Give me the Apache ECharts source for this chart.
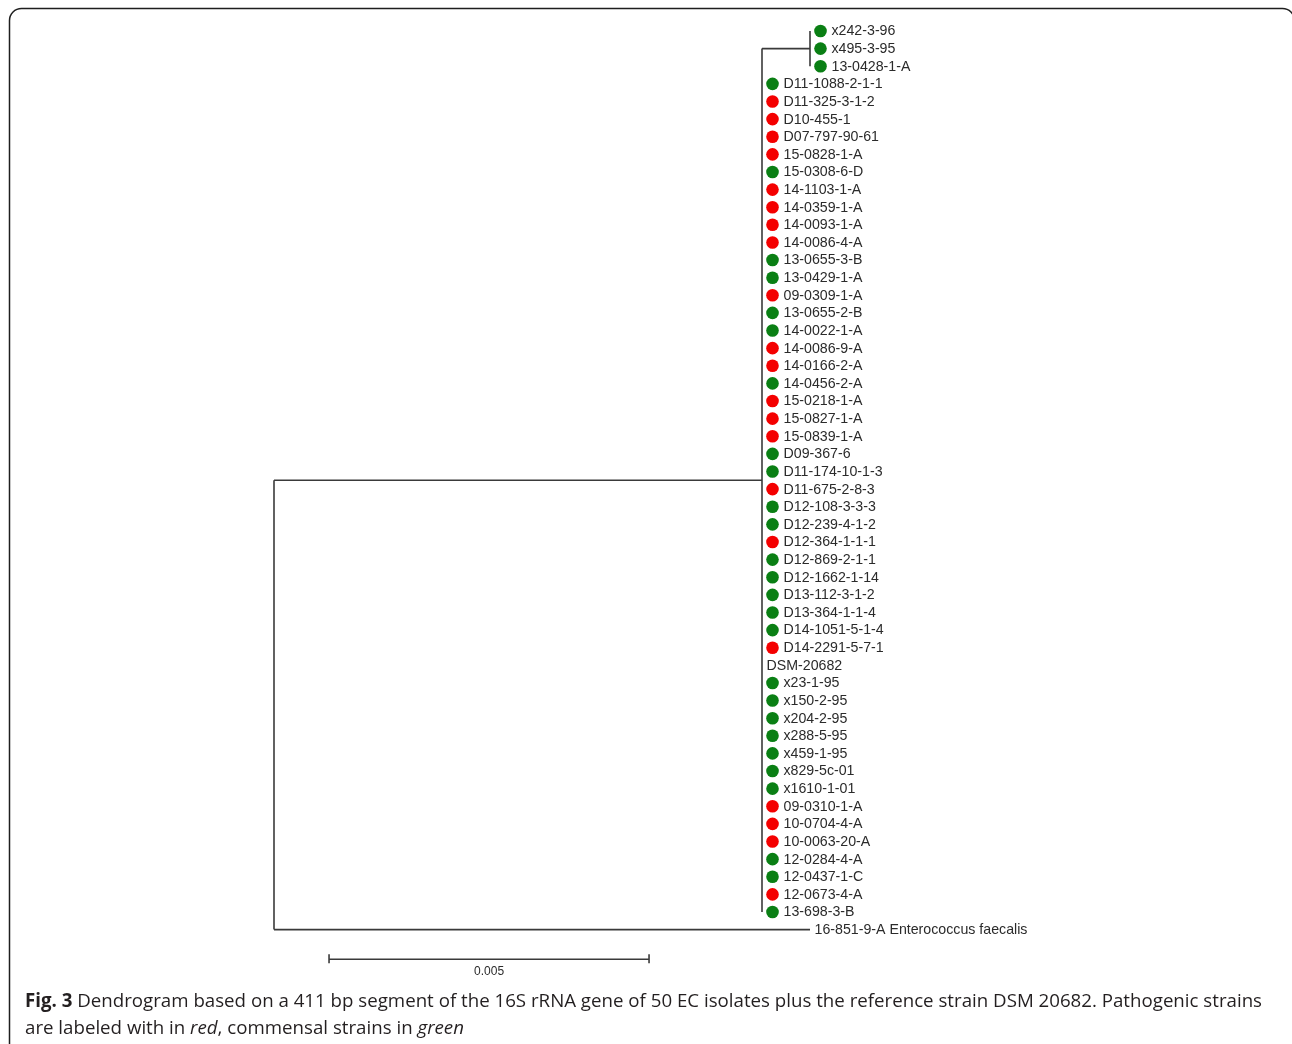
<!DOCTYPE html>
<html>
<head>
<meta charset="utf-8">
<title>Dendrogram 16S rRNA</title>
<script src="https://cdn.jsdelivr.net/npm/echarts@6/dist/echarts.min.js"></script>
<style>
  html, body { margin: 0; padding: 0; background: #fff; }
  #chart { width: 1292px; height: 1044px; }
</style>
</head>
<body>
<div id="chart"></div>
<script>
// Leaves of the small top subclade
const subCladeLeaves = ['x242-3-96', 'x495-3-95', '13-0428-1-A'];

// Remaining leaves attached directly to the ingroup node (top to bottom)
const mainCladeLeaves = [
  'D11-1088-2-1-1', 'D11-325-3-1-2', 'D10-455-1', 'D07-797-90-61', '15-0828-1-A',
  '15-0308-6-D', '14-1103-1-A', '14-0359-1-A', '14-0093-1-A', '14-0086-4-A',
  '13-0655-3-B', '13-0429-1-A', '09-0309-1-A', '13-0655-2-B', '14-0022-1-A',
  '14-0086-9-A', '14-0166-2-A', '14-0456-2-A', '15-0218-1-A', '15-0827-1-A',
  '15-0839-1-A', 'D09-367-6', 'D11-174-10-1-3', 'D11-675-2-8-3', 'D12-108-3-3-3',
  'D12-239-4-1-2', 'D12-364-1-1-1', 'D12-869-2-1-1', 'D12-1662-1-14', 'D13-112-3-1-2',
  'D13-364-1-1-4', 'D14-1051-5-1-4', 'D14-2291-5-7-1', 'DSM-20682', 'x23-1-95',
  'x150-2-95', 'x204-2-95', 'x288-5-95', 'x459-1-95', 'x829-5c-01',
  'x1610-1-01', '09-0310-1-A', '10-0704-4-A', '10-0063-20-A', '12-0284-4-A',
  '12-0437-1-C', '12-0673-4-A', '13-698-3-B'
];

// Outgroup
const outgroupLeaves = ['16-851-9-A Enterococcus faecalis'];

// Pathogenic strains (red); all other isolates are commensal (green)
const pathogenicStrains = [
  'D11-325-3-1-2', 'D10-455-1', 'D07-797-90-61', '15-0828-1-A', '14-1103-1-A',
  '14-0359-1-A', '14-0093-1-A', '14-0086-4-A', '09-0309-1-A', '14-0086-9-A',
  '14-0166-2-A', '15-0218-1-A', '15-0827-1-A', '15-0839-1-A', 'D11-675-2-8-3',
  'D12-364-1-1-1', 'D14-2291-5-7-1', '09-0310-1-A', '10-0704-4-A', '10-0063-20-A',
  '12-0673-4-A'
];

// Leaves drawn without a status marker
const unmarkedLeaves = ['DSM-20682', '16-851-9-A Enterococcus faecalis'];

// Branch lengths (substitutions per site): root->ingroup, ingroup->subclade, root->outgroup
const branchLengths = [0.007625, 0.00075, 0.008375];

// Scale bar: start position, length, label
const scaleBarStart = [0.00086];
const scaleBarLength = [0.005];
const scaleBarLabel = ['0.005'];

const captionBold = 'Fig. 3';
const captionLines = [
  ' Dendrogram based on a 411 bp segment of the 16S rRNA gene of 50 EC isolates plus the reference strain DSM 20682. Pathogenic strains',
  'are labeled with in ', 'red', ', commensal strains in ', 'green'
];

// ---- build the tree ----
function leaf(name) { return { name: name, children: [] }; }
const subClade = { children: subCladeLeaves.map(leaf), length: branchLengths[1] };
const ingroup = { children: [subClade].concat(mainCladeLeaves.map(leaf)), length: branchLengths[0] };
const outgroup = outgroupLeaves.map(function (n) { const l = leaf(n); l.length = branchLengths[2]; return l; });
const root = { children: [ingroup].concat(outgroup), length: 0 };

// ---- rectangular layout: x = distance from root, y = leaf row ----
let row = 0;
function layout(node, x) {
  node.x = x;
  if (!node.children.length) { node.y = row++; return; }
  node.children.forEach(function (c) { layout(c, x + (c.length || 0)); });
  const f = node.children[0].y, l = node.children[node.children.length - 1].y;
  node.y = (f + l) / 2;
}
layout(root, 0);

const segments = [];
const leaves = [];
function collect(node) {
  if (!node.children.length) {
    const type = unmarkedLeaves.indexOf(node.name) >= 0 ? 'none'
      : (pathogenicStrains.indexOf(node.name) >= 0 ? 'P' : 'C');
    leaves.push([node.x, node.y, node.name, type]);
    return;
  }
  const ch = node.children;
  segments.push([node.x, ch[0].y, node.x, ch[ch.length - 1].y]);
  ch.forEach(function (c) {
    if (c.x > node.x) segments.push([node.x, c.y, c.x, c.y]);
    collect(c);
  });
}
collect(root);
const nRows = row;

const scaleRow = nRows + 0.68;
const scaleData = [[scaleBarStart[0], scaleRow, scaleBarStart[0] + scaleBarLength[0], scaleBarLabel[0]]];

const LINE = '#3a3a3a';
const LABEL_FONT = '14.2px "Liberation Sans", Arial, sans-serif';
const COLORS = { P: '#f40000', C: '#0a7f14' };

const chart = echarts.init(document.getElementById('chart'));
chart.setOption({
  animation: false,
  backgroundColor: '#fff',
  grid: { left: 274, top: 31, width: 640, height: (nRows - 1) * 17.62 },
  xAxis: { type: 'value', min: 0, max: 0.01, show: false },
  yAxis: { type: 'value', min: 0, max: nRows - 1, inverse: true, show: false },
  series: [
    {
      type: 'custom',
      data: segments,
      encode: { x: [0, 2], y: [1, 3] },
      clip: false,
      renderItem: function (params, api) {
        const a = api.coord([api.value(0), api.value(1)]);
        const b = api.coord([api.value(2), api.value(3)]);
        return {
          type: 'line',
          shape: { x1: a[0], y1: a[1], x2: b[0], y2: b[1] },
          style: { stroke: LINE, lineWidth: 1.6 }
        };
      }
    },
    {
      type: 'custom',
      data: leaves,
      encode: { x: 0, y: 1 },
      clip: false,
      renderItem: function (params, api) {
        const p = api.coord([api.value(0), api.value(1)]);
        const d = leaves[params.dataIndex];
        const type = d[3];
        const children = [];
        if (type !== 'none') {
          children.push({
            type: 'circle',
            shape: { cx: p[0] + 10.5, cy: p[1], r: 6.3 },
            style: { fill: COLORS[type] }
          });
        }
        children.push({
          type: 'text',
          style: {
            text: d[2],
            x: p[0] + (type === 'none' ? 4.5 : 21.5),
            y: p[1] + 0.5,
            verticalAlign: 'middle',
            align: 'left',
            font: LABEL_FONT,
            fill: '#2b2b2b'
          }
        });
        return { type: 'group', children: children };
      }
    },
    {
      type: 'custom',
      data: scaleData,
      encode: { x: [0, 2], y: 1 },
      clip: false,
      renderItem: function (params, api) {
        const a = api.coord([api.value(0), api.value(1)]);
        const b = api.coord([api.value(2), api.value(1)]);
        const st = { stroke: LINE, lineWidth: 1.6 };
        return {
          type: 'group',
          children: [
            { type: 'line', shape: { x1: a[0], y1: a[1], x2: b[0], y2: b[1] }, style: st },
            { type: 'line', shape: { x1: a[0], y1: a[1] - 5, x2: a[0], y2: a[1] + 4 }, style: st },
            { type: 'line', shape: { x1: b[0], y1: b[1] - 5, x2: b[0], y2: b[1] + 4 }, style: st },
            {
              type: 'text',
              style: {
                text: scaleData[0][3],
                x: (a[0] + b[0]) / 2, y: a[1] + 12.5,
                align: 'center', verticalAlign: 'middle',
                font: '12px "Liberation Sans", Arial, sans-serif',
                fill: '#2b2b2b'
              }
            }
          ]
        };
      }
    }
  ],
  graphic: [
    {
      type: 'rect',
      shape: { x: 9.5, y: 8.5, width: 1285, height: 1120, r: 12 },
      style: { fill: 'none', stroke: '#1e1e1e', lineWidth: 1.5 },
      silent: true
    },
    {
      type: 'text',
      left: 25,
      top: 992,
      style: {
        text: '{b|' + captionBold + '}{n|' + captionLines[0] + '}\n{n|' + captionLines[1] + '}{i|' + captionLines[2] + '}{n|' + captionLines[3] + '}{i|' + captionLines[4] + '}',
        rich: {
          b: { fontFamily: '"Open Sans", sans-serif', fontSize: 18.7, fontWeight: 'bold', fill: '#231f20', lineHeight: 27 },
          n: { fontFamily: '"Open Sans", sans-serif', fontSize: 18.7, fill: '#231f20', lineHeight: 27 },
          i: { fontFamily: '"Open Sans", sans-serif', fontSize: 18.7, fontStyle: 'italic', fill: '#231f20', lineHeight: 27 }
        }
      }
    }
  ]
});
</script>
</body>
</html>
